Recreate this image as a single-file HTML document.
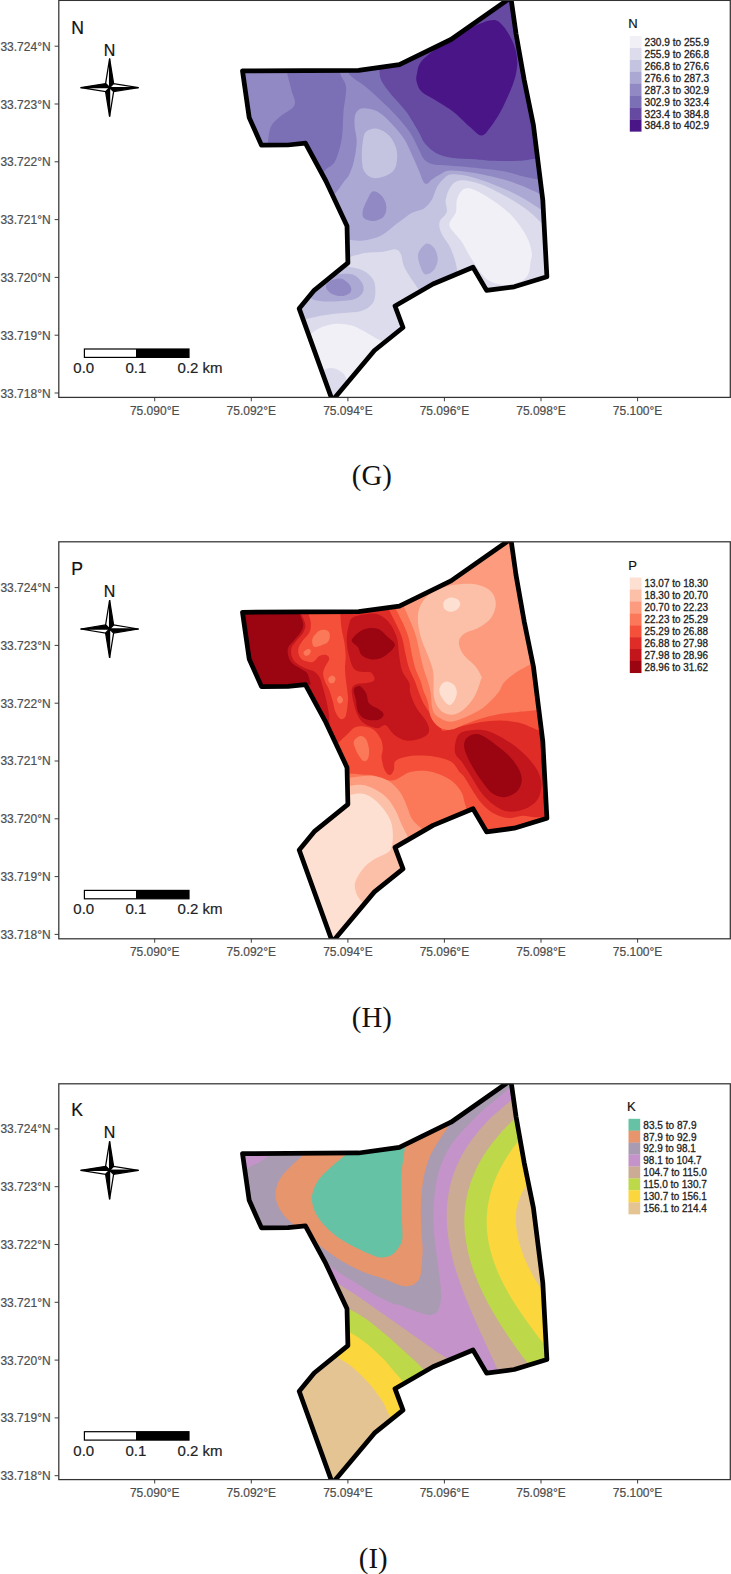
<!DOCTYPE html>
<html><head><meta charset="utf-8"><title>Soil nutrient maps</title>
<style>
html,body{margin:0;padding:0;background:#fff}
svg{display:block}
text{font-family:"Liberation Sans",Arial,sans-serif}
.ax{font-size:12px;fill:#4d4d4d;stroke:#4d4d4d;stroke-width:0.2px}
.ttl{font-size:17.6px;fill:#111;stroke:#111;stroke-width:0.2px}
.cn{font-size:16px;fill:#111;stroke:#111;stroke-width:0.2px}
.sb{font-size:15px;fill:#222;stroke:#222;stroke-width:0.2px}
.lt{font-size:13px;fill:#111;stroke:#111;stroke-width:0.2px}
.lg{font-size:10.2px;fill:#222;stroke:#222;stroke-width:0.3px}
.cap{font-family:"Liberation Serif","Times New Roman",serif;font-size:28.8px;fill:#111}
</style></head>
<body>
<svg width="731" height="1574" viewBox="0 0 731 1574">
<rect width="731" height="1574" fill="#fff"/>
<g transform="translate(0,0.0)">
<clipPath id="cp1"><path d="M242.5,70.9 L358.6,70.3 L399.4,64.7 L451.0,39.5 L510.9,-2.5 L516.0,33.6 L524.2,80.0 L533.4,125.0 L542.8,200.0 L546.9,276.8 L514.2,286.8 L486.6,290.4 L473.0,267.3 L433.0,284.0 L395.0,306.0 L403.0,327.5 L374.4,350.5 L332.4,400.6 L299.2,308.6 L314.2,290.3 L347.9,262.9 L347.0,226.0 L325.9,181.0 L305.4,143.2 L288.0,145.0 L261.5,145.2 L249.2,117.6Z"/></clipPath>
<clipPath id="pc1"><rect x="58.8" y="0.4" width="671.5" height="397.0"/></clipPath>
<g clip-path="url(#pc1)"><g clip-path="url(#cp1)"><rect x="230" y="-5" width="330" height="410" fill="#aba8d3"/>
<path d="M330.0,199.0C331.3,197.5 335.6,193.0 338.0,190.0C340.4,187.0 342.6,183.5 344.4,181.0C346.2,178.5 347.5,178.1 349.0,175.0C350.5,171.9 352.3,168.1 353.6,162.6C354.9,157.1 356.5,148.2 356.7,142.1C356.9,135.9 354.8,130.5 354.6,125.7C354.4,120.9 354.3,116.3 355.7,113.4C357.1,110.5 359.2,108.6 362.8,108.2C366.4,107.8 372.8,109.1 377.2,111.3C381.6,113.5 385.1,117.1 389.5,121.6C393.9,126.0 399.8,132.5 403.5,138.0C407.2,143.5 409.2,148.9 411.8,154.4C414.4,159.9 417.1,166.4 419.0,170.8C420.9,175.2 421.7,178.8 423.0,181.0C424.3,183.2 425.4,184.1 427.0,183.8C428.6,183.5 430.0,180.9 432.3,179.3C434.6,177.7 437.9,175.5 440.8,174.0C443.8,172.5 444.9,170.8 450.0,170.5C455.1,170.2 462.6,171.1 471.3,172.5C480.0,173.9 493.6,176.8 502.1,179.0C510.7,181.2 516.5,183.6 522.6,186.0C528.8,188.4 534.8,191.5 539.0,193.5C543.2,195.5 546.5,197.2 548.0,198.0L560.0,198.0L560.0,-5.0L230.0,-5.0L230.0,160.0L300.0,200.0Z" fill="#9189c4"/>
<path d="M286.0,62.0C286.1,63.2 285.4,64.8 286.3,69.4C287.2,74.1 290.0,83.9 291.4,89.9C292.8,95.9 296.4,100.8 294.5,105.3C292.6,109.8 284.0,113.0 280.1,116.6C276.2,120.2 272.9,122.4 270.9,126.8C268.8,131.2 268.4,139.3 267.8,143.2C267.2,147.1 267.1,148.9 267.0,150.0L300.0,150.0ZM322.0,174.0C322.7,173.2 324.1,171.0 326.3,168.9C328.5,166.8 332.5,166.2 335.1,161.2C337.7,156.2 340.3,147.2 341.7,139.0C343.1,130.8 342.8,120.6 343.5,112.0C344.2,103.4 346.6,93.7 346.1,87.4C345.6,81.2 341.7,78.7 340.6,74.5C339.5,70.3 339.7,64.1 339.5,62.0L286.0,62.0L300.0,150.0Z" fill="#7b70b6"/>
<path d="M346.0,62.0C346.6,64.1 346.7,70.6 349.5,74.4C352.3,78.2 357.8,80.5 362.8,84.6C367.8,88.7 373.8,93.9 379.3,99.0C384.8,104.1 391.0,109.9 396.0,115.4C401.0,120.9 405.8,126.3 409.5,131.8C413.2,137.3 415.9,143.6 418.3,148.2C420.8,152.8 421.6,156.8 424.2,159.5C426.8,162.2 430.0,163.5 434.0,164.5C438.0,165.5 441.8,165.1 448.0,165.6C454.2,166.1 462.3,166.6 471.3,167.5C480.3,168.4 493.6,169.6 502.1,171.0C510.7,172.4 516.8,174.8 522.6,176.2C528.4,177.6 532.8,178.3 537.0,179.3C541.2,180.3 546.2,181.6 548.0,182.0L560.0,182.0L560.0,-5.0L346.0,-5.0Z" fill="#7b70b6"/>
<path d="M378.5,60.0C378.6,61.5 378.8,65.8 379.3,69.2C379.8,72.6 379.2,76.2 381.3,80.5C383.4,84.8 387.5,89.8 391.6,94.9C395.7,100.0 401.5,105.3 405.9,111.3C410.3,117.3 415.0,125.6 418.2,131.0C421.4,136.4 421.9,139.8 425.0,143.5C428.1,147.2 432.0,151.0 436.7,153.4C441.4,155.8 446.7,157.0 453.1,158.0C459.5,159.0 468.6,158.8 475.0,159.3C481.4,159.8 484.6,160.6 491.8,160.8C499.1,161.1 511.3,161.2 518.5,160.8C525.7,160.5 530.0,159.3 534.9,158.7C539.8,158.1 545.8,157.3 548.0,157.0L560.0,157.0L560.0,-5.0L378.0,-5.0Z" fill="#6649a0"/>
<path d="M416.9,73.9C418.0,69.9 417.2,65.2 423.8,58.8C430.4,52.4 445.7,42.0 456.6,35.6C467.5,29.2 481.6,22.1 489.4,20.5C497.1,18.9 498.8,21.2 503.1,26.0C507.4,30.8 513.2,41.2 515.4,49.2C517.5,57.2 518.0,64.3 516.0,73.9C514.0,83.5 507.5,97.6 503.1,106.7C498.7,115.8 493.0,123.8 489.4,128.6C485.8,133.4 484.4,135.6 481.2,135.4C478.0,135.2 474.9,131.1 470.3,127.2C465.8,123.3 459.5,116.6 453.9,112.2C448.3,107.8 442.0,104.4 436.7,101.0C431.4,97.6 425.3,95.0 422.0,92.0C418.7,89.0 417.9,86.0 417.0,83.0C416.1,80.0 415.8,77.9 416.9,73.9Z" fill="#4a1587"/>
<path d="M373.1,191.3C375.7,190.6 380.1,193.8 382.3,196.4C384.5,199.0 386.2,203.3 386.4,206.7C386.6,210.1 385.6,214.5 383.4,216.9C381.2,219.3 376.4,220.8 373.1,221.0C369.9,221.2 365.6,219.7 363.9,218.0C362.2,216.3 362.3,213.7 362.8,210.8C363.3,207.9 365.2,203.8 366.9,200.5C368.6,197.2 370.5,192.0 373.1,191.3Z" fill="#9189c4"/>
<path d="M362.8,142.1C363.5,138.0 363.5,134.0 365.9,131.8C368.3,129.6 373.3,128.0 377.2,128.7C381.1,129.4 386.2,132.3 389.5,135.9C392.8,139.5 395.7,145.2 396.7,150.3C397.7,155.4 397.2,162.6 395.7,166.7C394.2,170.8 391.3,173.0 387.5,174.9C383.7,176.8 377.0,178.7 373.1,178.0C369.2,177.3 365.8,174.4 363.9,170.8C362.0,167.2 362.0,161.3 361.8,156.5C361.6,151.7 362.1,146.2 362.8,142.1Z" fill="#c4c4e1"/>
<path d="M340.0,239.0C341.2,239.1 343.6,239.2 347.4,239.5C351.2,239.8 357.1,241.2 362.8,240.5C368.5,239.8 375.5,238.3 381.3,235.4C387.1,232.5 392.6,226.9 397.7,223.1C402.8,219.3 407.7,215.2 412.1,212.8C416.5,210.4 420.7,210.7 424.0,208.5C427.3,206.3 429.8,203.2 432.0,199.6C434.2,196.0 435.0,190.5 437.0,187.0C439.0,183.5 441.5,180.6 444.0,178.5C446.5,176.4 447.1,174.5 452.0,174.3C456.9,174.1 465.0,175.2 473.4,177.5C481.8,179.8 493.9,184.6 502.1,188.0C510.3,191.4 516.3,194.5 522.6,198.0C528.9,201.5 535.8,206.2 540.0,209.0C544.2,211.8 546.7,214.0 548.0,215.0L560.0,215.0L560.0,410.0L280.0,410.0L280.0,239.0Z" fill="#c4c4e1"/>
<path d="M549.0,229.0C547.7,227.9 544.7,225.8 541.0,222.5C537.3,219.2 532.5,213.8 526.7,209.5C520.9,205.2 513.7,200.7 506.2,196.5C498.7,192.3 489.1,187.1 481.6,184.4C474.1,181.7 466.1,180.0 461.0,180.3C455.9,180.6 453.4,183.2 450.8,186.4C448.2,189.7 446.4,195.5 445.7,199.8C445.0,204.1 447.7,208.3 446.7,212.1C445.7,215.8 440.4,218.7 439.5,222.3C438.6,225.9 439.8,229.4 441.5,233.5C443.2,237.6 447.7,242.2 450.0,247.0C452.3,251.8 454.2,257.2 455.5,262.0C456.8,266.8 457.6,273.7 458.0,276.0L470.0,300.0L560.0,300.0Z" fill="#dddcec"/>
<path d="M340.0,259.0C341.6,258.7 345.4,258.0 349.5,257.0C353.6,256.0 359.2,253.8 364.9,252.9C370.5,252.0 378.3,252.4 383.4,251.8C388.5,251.2 392.8,249.1 395.7,249.4C398.6,249.8 399.4,251.1 400.8,253.9C402.2,256.7 402.2,262.1 403.9,266.2C405.6,270.3 408.7,274.7 411.1,278.5C413.5,282.3 416.4,286.2 418.2,288.8C420.0,291.4 421.4,293.1 422.0,294.0L430.0,300.0L430.0,410.0L280.0,410.0L280.0,259.0Z" fill="#dddcec"/>
<path d="M450.8,228.5C448.9,225.4 449.0,225.0 449.8,222.3C450.6,219.6 454.7,215.8 455.9,212.1C457.1,208.3 455.7,203.6 456.9,199.8C458.1,196.0 460.4,191.2 463.1,189.5C465.9,187.8 468.6,187.8 473.4,189.5C478.2,191.2 485.3,195.4 491.8,199.8C498.3,204.2 506.5,210.0 512.3,216.2C518.1,222.3 523.5,230.5 526.7,236.7C530.0,242.8 531.2,248.9 531.8,253.1C532.4,257.3 531.0,258.8 530.5,262.0C530.0,265.2 530.1,269.3 529.0,272.2C527.9,275.1 526.6,277.6 524.1,279.6C521.6,281.6 517.9,283.1 514.2,284.0C510.5,284.9 506.0,285.3 501.9,284.8C497.8,284.3 493.1,283.0 489.6,281.0C486.1,279.0 484.4,277.3 481.0,273.0C477.6,268.7 472.6,260.6 469.3,255.2C466.0,249.8 464.1,245.2 461.0,240.8C457.9,236.4 452.7,231.6 450.8,228.5Z" fill="#f1f0f7"/>
<path d="M300.0,340.0C301.8,339.0 307.3,336.0 310.6,334.0C313.9,332.0 315.6,329.6 319.9,327.9C324.2,326.2 330.8,324.0 336.3,323.7C341.8,323.4 347.6,324.2 352.7,325.8C357.8,327.4 363.0,330.8 367.1,333.0C371.2,335.2 374.6,337.7 377.3,339.1C380.0,340.5 381.1,340.4 383.5,341.2C385.9,342.0 390.6,343.5 392.0,344.0L400.0,410.0L280.0,410.0Z" fill="#f1f0f7"/>
<path d="M318.0,376.0C318.2,370.2 320.8,371.8 323.0,370.5C325.2,369.2 328.2,367.9 331.0,368.0C333.8,368.1 337.4,369.0 340.0,371.0C342.6,373.0 345.7,374.3 346.5,380.0C347.3,385.7 349.1,400.8 345.0,405.0C340.9,409.2 326.5,409.8 322.0,405.0C317.5,400.2 317.8,381.8 318.0,376.0Z" fill="#dddcec"/>
<path d="M346.6,266.3C352.1,267.7 358.6,268.2 363.0,270.4C367.4,272.6 371.1,276.0 373.2,279.6C375.3,283.2 375.5,287.9 375.4,291.9C375.3,295.9 374.9,300.2 372.5,303.4C370.1,306.6 366.0,309.4 361.1,311.0C356.2,312.6 349.3,312.4 343.4,313.0C337.5,313.6 331.5,314.0 325.6,314.9C319.7,315.8 312.7,317.3 307.8,318.5C302.9,319.7 298.1,325.1 296.0,322.0C293.9,318.9 289.3,310.0 295.0,300.0C300.7,290.0 321.4,267.6 330.0,262.0C338.6,256.4 341.1,264.9 346.6,266.3Z" fill="#c4c4e1"/>
<path d="M336.3,274.5C341.1,273.9 348.4,273.1 352.7,274.5C357.0,275.9 360.3,279.8 362.0,282.7C363.7,285.6 364.2,289.2 363.0,291.9C361.8,294.6 358.9,297.6 354.8,299.1C350.7,300.7 343.9,300.9 338.4,301.2C332.9,301.5 326.5,301.7 321.9,301.2C317.3,300.7 312.6,300.2 311.0,298.0C309.4,295.8 309.8,291.3 312.0,288.0C314.2,284.7 319.9,280.2 324.0,278.0C328.1,275.8 331.5,275.1 336.3,274.5Z" fill="#aba8d3"/>
<path d="M329.1,281.7C331.5,280.2 337.0,278.1 340.4,278.6C343.8,279.1 347.9,282.6 349.6,284.8C351.3,287.0 351.9,290.0 350.7,291.9C349.5,293.8 345.6,295.6 342.5,296.0C339.4,296.4 334.9,295.4 332.2,294.0C329.4,292.6 326.5,289.9 326.0,287.8C325.5,285.8 326.7,283.2 329.1,281.7Z" fill="#9189c4"/>
<path d="M426.5,243.6C429.2,242.7 432.8,246.0 434.7,248.7C436.6,251.4 437.9,256.4 437.7,260.0C437.5,263.6 435.7,267.9 433.6,270.3C431.6,272.7 427.6,275.1 425.4,274.4C423.2,273.7 421.5,269.6 420.3,266.2C419.1,262.8 417.2,257.7 418.2,253.9C419.2,250.1 423.8,244.5 426.5,243.6Z" fill="#aba8d3"/></g></g>
<path d="M242.5,70.9 L358.6,70.3 L399.4,64.7 L451.0,39.5 L510.9,-2.5 L516.0,33.6 L524.2,80.0 L533.4,125.0 L542.8,200.0 L546.9,276.8 L514.2,286.8 L486.6,290.4 L473.0,267.3 L433.0,284.0 L395.0,306.0 L403.0,327.5 L374.4,350.5 L332.4,400.6 L299.2,308.6 L314.2,290.3 L347.9,262.9 L347.0,226.0 L325.9,181.0 L305.4,143.2 L288.0,145.0 L261.5,145.2 L249.2,117.6Z" fill="none" stroke="#000" stroke-width="4.75" stroke-linejoin="round" clip-path="url(#pc1)"/>
<rect x="58.8" y="0.4" width="671.5" height="397.0" fill="none" stroke="#333" stroke-width="1.25"/>
<line x1="154.7" y1="397.4" x2="154.7" y2="401.3" stroke="#333" stroke-width="0.95"/>
<text x="154.7" y="414.8" text-anchor="middle" class="ax">75.090°E</text>
<line x1="251.3" y1="397.4" x2="251.3" y2="401.3" stroke="#333" stroke-width="0.95"/>
<text x="251.3" y="414.8" text-anchor="middle" class="ax">75.092°E</text>
<line x1="347.9" y1="397.4" x2="347.9" y2="401.3" stroke="#333" stroke-width="0.95"/>
<text x="347.9" y="414.8" text-anchor="middle" class="ax">75.094°E</text>
<line x1="444.4" y1="397.4" x2="444.4" y2="401.3" stroke="#333" stroke-width="0.95"/>
<text x="444.4" y="414.8" text-anchor="middle" class="ax">75.096°E</text>
<line x1="541.0" y1="397.4" x2="541.0" y2="401.3" stroke="#333" stroke-width="0.95"/>
<text x="541.0" y="414.8" text-anchor="middle" class="ax">75.098°E</text>
<line x1="637.6" y1="397.4" x2="637.6" y2="401.3" stroke="#333" stroke-width="0.95"/>
<text x="637.6" y="414.8" text-anchor="middle" class="ax">75.100°E</text>
<line x1="54.6" y1="46.2" x2="58.8" y2="46.2" stroke="#333" stroke-width="0.95"/>
<text x="50.6" y="50.7" text-anchor="end" class="ax">33.724°N</text>
<line x1="54.6" y1="104.0" x2="58.8" y2="104.0" stroke="#333" stroke-width="0.95"/>
<text x="50.6" y="108.5" text-anchor="end" class="ax">33.723°N</text>
<line x1="54.6" y1="161.8" x2="58.8" y2="161.8" stroke="#333" stroke-width="0.95"/>
<text x="50.6" y="166.3" text-anchor="end" class="ax">33.722°N</text>
<line x1="54.6" y1="219.6" x2="58.8" y2="219.6" stroke="#333" stroke-width="0.95"/>
<text x="50.6" y="224.1" text-anchor="end" class="ax">33.721°N</text>
<line x1="54.6" y1="277.4" x2="58.8" y2="277.4" stroke="#333" stroke-width="0.95"/>
<text x="50.6" y="281.9" text-anchor="end" class="ax">33.720°N</text>
<line x1="54.6" y1="335.2" x2="58.8" y2="335.2" stroke="#333" stroke-width="0.95"/>
<text x="50.6" y="339.7" text-anchor="end" class="ax">33.719°N</text>
<line x1="54.6" y1="393.0" x2="58.8" y2="393.0" stroke="#333" stroke-width="0.95"/>
<text x="50.6" y="397.5" text-anchor="end" class="ax">33.718°N</text>
<text x="71.3" y="33.5" class="ttl">N</text>
<g><path d="M109.6,58.6L105.6,83.6L109.6,87.6Z" fill="#fff" stroke="#000" stroke-width="1.25" stroke-linejoin="miter"/><path d="M109.6,58.6L113.6,83.6L109.6,87.6Z" fill="#000" stroke="#000" stroke-width="1.25" stroke-linejoin="miter"/><path d="M138.6,87.6L113.6,83.6L109.6,87.6Z" fill="#fff" stroke="#000" stroke-width="1.25" stroke-linejoin="miter"/><path d="M138.6,87.6L113.6,91.6L109.6,87.6Z" fill="#000" stroke="#000" stroke-width="1.25" stroke-linejoin="miter"/><path d="M109.6,116.6L105.6,91.6L109.6,87.6Z" fill="#000" stroke="#000" stroke-width="1.25" stroke-linejoin="miter"/><path d="M109.6,116.6L113.6,91.6L109.6,87.6Z" fill="#fff" stroke="#000" stroke-width="1.25" stroke-linejoin="miter"/><path d="M80.6,87.6L105.6,83.6L109.6,87.6Z" fill="#000" stroke="#000" stroke-width="1.25" stroke-linejoin="miter"/><path d="M80.6,87.6L105.6,91.6L109.6,87.6Z" fill="#fff" stroke="#000" stroke-width="1.25" stroke-linejoin="miter"/><text x="109.6" y="55.5" text-anchor="middle" class="cn">N</text></g>
<rect x="84.4" y="349" width="104.6" height="8.4" fill="#fff" stroke="#000" stroke-width="1.2"/>
<rect x="136" y="349" width="53" height="8.4" fill="#000"/>
<text x="83.8" y="372.9" text-anchor="middle" class="sb">0.0</text>
<text x="135.9" y="372.9" text-anchor="middle" class="sb">0.1</text>
<text x="177.6" y="372.9" class="sb">0.2 km</text>
<text x="628.2" y="28.2" class="lt">N</text>
<rect x="629.8" y="36.10" width="11.7" height="12.1" fill="#f1f0f7"/>
<text x="644.6" y="46.0" class="lg" textLength="64.6" lengthAdjust="spacingAndGlyphs">230.9 to 255.9</text>
<rect x="629.8" y="48.02" width="11.7" height="12.1" fill="#dddcec"/>
<text x="644.6" y="57.9" class="lg" textLength="64.6" lengthAdjust="spacingAndGlyphs">255.9 to 266.8</text>
<rect x="629.8" y="59.94" width="11.7" height="12.1" fill="#c4c4e1"/>
<text x="644.6" y="69.8" class="lg" textLength="64.6" lengthAdjust="spacingAndGlyphs">266.8 to 276.6</text>
<rect x="629.8" y="71.86" width="11.7" height="12.1" fill="#aba8d3"/>
<text x="644.6" y="81.8" class="lg" textLength="64.6" lengthAdjust="spacingAndGlyphs">276.6 to 287.3</text>
<rect x="629.8" y="83.78" width="11.7" height="12.1" fill="#9189c4"/>
<text x="644.6" y="93.7" class="lg" textLength="64.6" lengthAdjust="spacingAndGlyphs">287.3 to 302.9</text>
<rect x="629.8" y="95.70" width="11.7" height="12.1" fill="#7b70b6"/>
<text x="644.6" y="105.6" class="lg" textLength="64.6" lengthAdjust="spacingAndGlyphs">302.9 to 323.4</text>
<rect x="629.8" y="107.62" width="11.7" height="12.1" fill="#6649a0"/>
<text x="644.6" y="117.5" class="lg" textLength="64.6" lengthAdjust="spacingAndGlyphs">323.4 to 384.8</text>
<rect x="629.8" y="119.54" width="11.7" height="12.1" fill="#4a1587"/>
<text x="644.6" y="129.4" class="lg" textLength="64.6" lengthAdjust="spacingAndGlyphs">384.8 to 402.9</text>
</g>
<text x="371.8" y="484.6" text-anchor="middle" class="cap">(G)</text>
<g transform="translate(0,541.4)">
<clipPath id="cp2"><path d="M242.5,70.9 L358.6,70.3 L399.4,64.7 L451.0,39.5 L510.9,-2.5 L516.0,33.6 L524.2,80.0 L533.4,125.0 L542.8,200.0 L546.9,276.8 L514.2,286.8 L486.6,290.4 L473.0,267.3 L433.0,284.0 L395.0,306.0 L403.0,327.5 L374.4,350.5 L332.4,400.6 L299.2,308.6 L314.2,290.3 L347.9,262.9 L347.0,226.0 L325.9,181.0 L305.4,143.2 L288.0,145.0 L261.5,145.2 L249.2,117.6Z"/></clipPath>
<clipPath id="pc2"><rect x="58.8" y="0.4" width="671.5" height="397.0"/></clipPath>
<g clip-path="url(#pc2)"><g clip-path="url(#cp2)"><rect x="230" y="-5" width="330" height="410" fill="#e02c26"/>
<path d="M300.5,71.2C301.3,73.2 304.9,79.5 305.3,82.9C305.8,86.2 304.7,88.3 303.3,91.1C301.8,93.8 298.4,96.8 296.4,99.3C294.5,101.8 292.4,103.6 291.6,106.1C290.8,108.6 290.9,111.8 291.6,114.3C292.3,116.8 293.6,119.1 295.7,121.2C297.9,123.2 301.5,125.1 304.6,126.6C307.7,128.1 311.7,128.5 314.2,130.1C316.7,131.6 318.3,133.8 319.7,136.2C321.0,138.6 321.5,141.5 322.4,144.4C323.3,147.4 324.5,151.5 325.1,154.0C325.8,156.5 326.1,157.5 326.5,159.6C327.0,161.7 327.3,163.8 327.8,166.3C328.3,168.8 329.0,173.2 329.2,174.5L330.0,215.0L295.0,150.0L230.0,150.0L230.0,60.0Z" fill="#c2161c"/>
<path d="M348.7,84.2C349.8,80.1 349.8,78.0 352.8,76.0C355.9,74.1 362.8,72.9 367.2,72.5C371.6,72.1 375.7,71.9 379.5,73.6C383.3,75.2 386.9,78.3 389.8,82.2C392.7,86.0 395.4,91.4 397.0,96.5C398.5,101.7 398.2,107.5 399.0,113.0C399.9,118.4 400.4,124.6 402.1,129.4C403.8,134.2 407.9,137.9 409.3,141.7C410.6,145.4 409.1,147.8 410.3,151.9C411.5,156.0 413.7,161.5 416.4,166.3C419.2,171.1 424.7,176.6 426.7,180.7C428.8,184.8 429.8,188.2 428.8,190.9C427.7,193.7 424.3,195.7 420.6,197.1C416.8,198.5 410.6,199.8 406.2,199.1C401.7,198.5 397.3,195.6 393.9,193.0C390.5,190.4 388.4,184.8 385.7,183.8C382.9,182.7 380.9,187.0 377.5,186.8C374.0,186.7 368.4,184.8 365.1,182.7C361.9,180.7 359.8,177.9 358.0,174.5C356.1,171.1 354.9,166.7 353.9,162.2C352.8,157.8 351.3,151.1 351.8,147.8C352.3,144.6 354.4,143.7 356.9,142.7C359.5,141.7 364.3,142.4 367.2,141.7C370.1,141.0 373.7,140.3 374.4,138.6C375.1,136.9 373.5,132.8 371.3,131.4C369.1,130.1 363.9,131.1 361.0,130.4C358.1,129.7 355.7,129.5 353.9,127.3C352.0,125.1 351.0,121.5 349.8,117.1C348.6,112.6 346.8,106.1 346.7,100.6C346.5,95.2 347.7,88.3 348.7,84.2Z" fill="#c2161c"/>
<path d="M454.9,210.6C454.2,206.2 455.6,197.8 458.0,194.2C460.4,190.6 464.3,189.8 469.3,189.1C474.2,188.3 480.9,187.7 487.7,189.7C494.6,191.8 503.8,197.2 510.3,201.4C516.8,205.6 522.1,210.4 526.7,215.2C531.3,219.9 535.5,225.2 538.0,230.1C540.5,235.0 541.7,239.7 541.5,244.5C541.3,249.3 539.8,255.0 537.0,258.9C534.2,262.7 529.4,265.8 524.7,267.7C519.9,269.6 513.4,270.8 508.2,270.2C503.1,269.5 498.3,266.7 493.9,263.6C489.4,260.5 485.3,256.4 481.6,251.7C477.8,247.0 474.6,240.4 471.3,235.3C468.1,230.1 464.8,225.0 462.1,220.9C459.3,216.8 455.6,215.1 454.9,210.6Z" fill="#c2161c"/>
<path d="M299.2,71.2C299.8,73.2 303.0,79.5 303.3,82.9C303.5,86.2 302.1,88.3 300.5,91.1C298.9,93.8 295.7,96.8 293.7,99.3C291.6,101.8 289.1,103.6 288.2,106.1C287.3,108.6 287.5,111.7 288.2,114.3C288.9,116.9 290.0,119.6 292.3,121.8C294.6,124.1 299.4,126.3 301.9,128.0C304.4,129.7 305.9,129.6 307.4,132.1C308.8,134.6 310.2,141.2 310.8,143.0L230.0,150.0L230.0,60.0Z" fill="#9a0511"/>
<path d="M351.8,98.6C352.7,95.7 358.8,90.2 363.1,88.3C367.4,86.4 373.4,86.1 377.5,87.3C381.6,88.5 384.8,92.8 387.7,95.5C390.6,98.2 395.2,100.6 394.9,103.7C394.6,106.8 389.3,111.6 385.7,114.0C382.1,116.4 377.3,118.1 373.4,118.1C369.4,118.1 364.6,116.0 362.1,114.0C359.5,111.9 359.7,108.3 358.0,105.8C356.3,103.2 351.0,101.5 351.8,98.6Z" fill="#9a0511"/>
<path d="M353.9,147.8C354.5,145.6 358.0,144.1 360.0,144.8C362.1,145.4 364.6,149.0 366.2,151.9C367.7,154.9 367.0,159.5 369.3,162.2C371.5,164.9 377.1,166.5 379.5,168.4C381.9,170.2 384.0,171.8 383.6,173.5C383.3,175.2 380.5,177.9 377.5,178.6C374.4,179.3 368.4,179.0 365.1,177.6C361.9,176.2 359.5,173.7 358.0,170.4C356.4,167.2 356.6,161.9 355.9,158.1C355.2,154.3 353.2,150.1 353.9,147.8Z" fill="#9a0511"/>
<path d="M464.1,202.4C464.5,199.5 465.7,196.8 468.2,195.3C470.8,193.7 474.9,191.8 479.5,193.2C484.1,194.6 490.8,199.7 495.9,203.5C501.1,207.2 506.4,211.5 510.3,215.8C514.2,220.0 517.6,225.0 519.5,229.1C521.4,233.2 522.1,236.8 521.6,240.4C521.1,244.0 519.4,248.1 516.4,250.7C513.5,253.2 508.2,255.6 504.1,255.8C500.0,256.0 495.6,254.4 491.8,251.7C488.1,248.9 484.8,243.8 481.6,239.4C478.3,234.9 474.9,229.5 472.3,225.0C469.8,220.6 467.5,216.5 466.2,212.7C464.8,208.9 463.8,205.3 464.1,202.4Z" fill="#9a0511"/>
<path d="M308.0,71.2C308.5,72.9 310.6,78.2 310.8,81.5C311.0,84.8 310.8,88.1 309.4,91.1C308.0,94.0 304.4,96.6 302.6,99.3C300.7,101.9 299.0,104.3 298.5,106.8C297.9,109.3 298.2,112.3 299.2,114.3C300.1,116.4 301.7,118.1 303.9,119.1C306.2,120.1 310.2,121.3 312.8,120.5C315.5,119.7 317.4,115.5 319.7,114.3C322.0,113.2 324.9,113.1 326.5,113.6C328.1,114.2 329.5,115.8 329.2,117.7C329.0,119.7 326.2,122.9 325.1,125.3C324.1,127.7 323.1,129.6 323.1,132.1C323.1,134.6 324.1,137.6 325.1,140.3C326.2,143.0 328.0,145.3 329.2,148.5C330.5,151.7 331.6,156.0 332.7,159.6C333.7,163.2 334.1,167.4 335.4,170.4C336.7,173.4 338.8,176.9 340.5,177.6C342.2,178.3 344.5,177.1 345.7,174.5C346.8,172.0 347.3,165.4 347.7,162.2C348.1,159.0 348.2,158.8 348.0,155.4C347.8,151.9 346.8,146.2 346.3,141.7C345.8,137.1 345.1,132.6 345.0,128.0C344.9,123.4 345.8,118.9 345.7,114.3C345.5,109.8 345.0,105.2 344.3,100.6C343.6,96.1 342.2,91.9 341.6,87.0C340.9,82.1 340.4,73.8 340.2,71.2Z" fill="#f4503a"/>
<path d="M387.7,65.8C389.1,68.5 393.5,77.0 395.9,82.2C398.3,87.3 400.5,91.4 402.1,96.5C403.7,101.7 404.4,107.8 405.6,113.0C406.8,118.1 407.7,122.9 409.3,127.3C410.8,131.8 413.3,135.9 414.8,139.6C416.3,143.4 417.0,146.1 418.5,149.9C420.0,153.7 421.4,158.1 423.6,162.2C425.9,166.3 429.1,170.6 431.8,174.5C434.6,178.5 438.1,183.3 440.0,185.8C442.0,188.3 441.2,189.2 443.5,189.4C445.8,189.6 449.8,187.9 453.7,186.9C457.7,186.0 462.5,184.7 467.1,183.6C471.7,182.6 476.0,181.3 481.4,180.5C486.9,179.8 493.8,179.0 499.9,179.1C506.1,179.2 512.2,179.6 518.4,181.2C524.5,182.7 533.8,187.1 536.9,188.3L565.0,190.0L565.0,-5.0L385.0,-5.0Z" fill="#f4503a"/>
<path d="M336.9,202.9C338.1,201.8 341.7,198.0 343.8,196.1C345.8,194.1 347.4,192.6 349.2,191.0C351.1,189.4 352.2,187.2 354.7,186.2C357.2,185.2 361.1,184.7 364.3,185.1C367.5,185.5 371.1,186.5 373.9,188.5C376.6,190.6 379.2,194.3 380.7,197.4C382.2,200.5 382.6,203.9 382.8,207.0C382.9,210.1 381.3,212.7 381.6,216.3C381.9,219.9 383.3,225.7 384.6,228.6C386.0,231.5 388.2,233.7 389.8,233.7C391.3,233.7 393.0,230.8 393.9,228.6C394.7,226.4 393.5,222.4 394.9,220.4C396.3,218.3 398.5,217.3 402.1,216.3C405.7,215.3 411.0,214.4 416.4,214.2C421.9,214.1 429.1,214.2 434.9,215.3C440.7,216.3 447.2,217.8 451.3,220.4C455.4,222.9 457.4,228.2 459.5,230.6C461.7,233.1 462.0,232.3 464.1,235.3C466.3,238.3 469.4,244.2 472.3,248.6C475.2,253.1 478.0,258.0 481.6,261.9C485.2,265.9 489.4,269.7 493.9,272.2C498.3,274.7 503.5,276.4 508.2,276.7C513.0,277.1 518.2,274.4 522.6,274.3C527.1,274.1 530.1,275.7 534.9,275.9C539.7,276.1 548.6,275.4 551.3,275.3L560.0,410.0L280.0,410.0L280.0,200.0Z" fill="#f4503a"/>
<path d="M313.5,95.2C314.8,93.2 317.4,90.0 319.7,89.0C322.0,88.0 325.5,88.2 327.2,89.0C328.9,89.8 329.8,91.9 329.9,93.8C330.0,95.7 329.4,98.9 327.9,100.6C326.4,102.3 323.3,103.3 321.0,104.1C318.8,104.9 315.7,106.0 314.2,105.4C312.7,104.9 312.3,102.3 312.1,100.6C312.0,98.9 312.3,97.1 313.5,95.2Z" fill="#fb7858"/>
<path d="M303.5,110.9C303.9,109.8 306.2,108.1 307.4,107.8C308.6,107.4 310.4,108.0 310.8,108.8C311.1,109.7 310.3,112.0 309.4,113.0C308.5,113.9 306.3,114.7 305.3,114.3C304.3,114.0 303.2,112.0 303.5,110.9Z" fill="#fb7858"/>
<path d="M328.2,137.6C328.5,136.3 330.8,134.3 332.0,134.2C333.2,134.0 335.1,135.8 335.4,136.9C335.7,138.0 334.9,140.2 334.0,141.0C333.1,141.8 330.9,142.2 329.9,141.7C329.0,141.1 327.8,138.8 328.2,137.6Z" fill="#fb7858"/>
<path d="M336.9,157.8C337.0,156.5 338.7,154.4 339.7,154.3C340.6,154.2 342.2,156.0 342.7,157.1C343.1,158.1 343.0,159.6 342.4,160.5C341.9,161.3 340.3,162.6 339.4,162.1C338.5,161.7 336.9,159.1 336.9,157.8Z" fill="#fb7858"/>
<path d="M394.9,65.8C396.3,68.5 400.8,77.0 403.1,82.2C405.4,87.3 407.2,91.4 408.7,96.5C410.1,101.7 410.8,107.8 411.9,113.0C413.1,118.1 414.0,122.9 415.4,127.3C416.9,131.8 419.2,135.9 420.6,139.6C421.9,143.4 422.4,146.5 423.6,149.9C424.8,153.3 426.6,156.0 427.7,160.2C428.9,164.3 428.9,170.9 430.6,175.0C432.3,179.1 435.3,182.6 437.9,184.9C440.6,187.1 443.8,187.9 446.6,188.3C449.4,188.8 451.4,188.3 454.8,187.3C458.2,186.3 462.6,183.9 467.1,182.2C471.5,180.5 476.0,178.7 481.4,177.1C486.9,175.5 493.8,173.6 499.9,172.5C506.1,171.5 512.2,171.1 518.4,170.5C524.5,169.9 533.8,169.1 536.9,168.9L565.0,170.0L565.0,-5.0L400.0,-5.0Z" fill="#fb7858"/>
<path d="M344.6,231.7C347.4,231.9 356.3,232.7 361.0,233.1C365.8,233.5 369.6,233.3 373.4,234.1C377.1,234.9 380.2,237.0 383.6,237.8C387.0,238.6 390.8,239.4 393.9,238.9C397.0,238.3 399.3,236.1 402.1,234.7C404.8,233.4 406.2,231.5 410.3,230.6C414.4,229.8 421.6,229.1 426.7,229.6C431.8,230.1 436.6,231.8 441.1,233.7C445.5,235.6 450.0,238.0 453.4,240.9C456.8,243.8 459.7,247.7 461.6,251.2C463.5,254.6 463.6,258.0 464.7,261.4C465.7,264.8 467.2,270.0 467.8,271.7L470.0,300.0L470.0,410.0L280.0,410.0L280.0,232.0Z" fill="#fb7858"/>
<path d="M360.2,194.7C362.1,194.3 364.3,195.8 365.7,197.4C367.0,199.0 367.8,201.8 368.4,204.3C369.0,206.8 369.3,210.1 369.1,212.5C368.9,214.9 368.1,217.5 367.0,218.6C366.0,219.8 364.4,220.2 362.9,219.3C361.4,218.4 359.5,215.4 358.1,213.2C356.8,210.9 355.4,207.9 354.7,205.6C354.0,203.4 353.1,201.3 354.0,199.5C354.9,197.7 358.3,195.0 360.2,194.7Z" fill="#fb7858"/>
<path d="M404.1,65.8C405.3,68.5 409.3,77.0 411.3,82.2C413.4,87.3 415.0,91.4 416.4,96.5C417.9,101.7 418.9,107.8 420.1,113.0C421.3,118.1 422.4,122.9 423.6,127.3C424.9,131.8 426.6,135.9 427.7,139.6C428.9,143.4 429.5,144.9 430.4,149.9C431.3,154.9 431.2,165.2 433.2,169.9C435.2,174.6 439.2,176.4 442.5,178.1C445.7,179.8 448.6,180.7 452.7,180.1C456.8,179.6 462.6,176.9 467.1,175.0C471.5,173.1 475.6,171.2 479.4,168.9C483.2,166.5 486.4,163.7 489.7,160.6C492.9,157.6 496.5,153.6 498.9,150.4C501.3,147.1 501.1,144.4 504.0,141.1C506.9,137.9 510.9,134.5 516.3,130.9C521.8,127.3 533.4,121.5 536.9,119.6L565.0,100.0L565.0,-5.0L420.0,-5.0Z" fill="#fc9b7d"/>
<path d="M344.6,237.2C347.0,236.9 354.5,235.6 359.0,235.2C363.4,234.7 367.5,234.1 371.3,234.3C375.1,234.5 378.1,235.1 381.6,236.4C385.0,237.7 388.6,239.3 391.8,241.9C395.1,244.6 398.5,248.3 401.1,252.2C403.6,256.1 405.3,261.3 407.2,265.5C409.1,269.8 409.8,274.1 412.3,277.8C414.9,281.6 420.9,286.4 422.6,288.1L430.0,300.0L430.0,410.0L280.0,410.0L280.0,232.0Z" fill="#fc9b7d"/>
<path d="M417.8,77.6C417.8,72.1 418.5,67.7 420.9,63.2C423.3,58.8 426.9,54.2 432.2,50.9C437.5,47.7 445.9,45.1 452.7,43.7C459.6,42.4 467.1,41.8 473.2,42.7C479.4,43.5 485.9,45.8 489.7,48.9C493.4,51.9 495.5,56.7 495.8,61.2C496.2,65.6 494.4,71.4 491.7,75.5C489.0,79.6 483.8,83.1 479.4,85.8C475.0,88.5 468.5,89.6 465.0,91.9C461.6,94.3 459.2,96.7 458.9,100.2C458.5,103.6 460.2,108.4 463.0,112.5C465.7,116.6 472.2,121.0 475.3,124.8C478.4,128.5 480.5,132.8 481.4,135.0C482.4,137.3 482.1,135.0 481.0,138.1C480.0,141.1 477.8,148.8 475.3,153.5C472.8,158.1 469.3,162.6 466.1,165.8C462.8,169.0 459.0,171.4 455.8,172.5C452.5,173.7 449.4,173.5 446.6,172.5C443.7,171.6 440.9,169.8 438.8,166.8C436.6,163.8 434.8,160.5 433.8,154.5C432.9,148.5 434.2,137.6 433.2,130.9C432.3,124.3 430.1,120.3 428.1,114.5C426.0,108.7 422.6,102.2 420.9,96.0C419.2,89.9 417.8,83.1 417.8,77.6Z" fill="#fcbfa7"/>
<path d="M344.6,245.4C347.4,245.1 355.9,242.9 361.0,243.4C366.2,243.8 371.0,245.8 375.4,248.1C379.9,250.4 384.3,253.7 387.7,257.3C391.1,260.9 393.7,265.5 395.9,269.6C398.2,273.7 399.3,278.2 401.1,281.9C402.8,285.7 404.7,289.1 406.2,292.2C407.7,295.3 409.6,299.0 410.3,300.4L420.0,300.0L420.0,410.0L280.0,410.0L280.0,272.0Z" fill="#fcbfa7"/>
<path d="M451.7,56.0C453.6,56.1 456.4,56.9 457.9,58.1C459.3,59.3 460.5,61.5 460.3,63.2C460.1,64.9 458.6,67.1 456.8,68.3C455.0,69.5 451.8,70.6 449.6,70.4C447.5,70.2 445.1,68.4 444.1,66.9C443.1,65.4 443.1,62.7 443.5,61.2C443.9,59.6 445.2,58.3 446.6,57.5C447.9,56.6 449.8,55.9 451.7,56.0Z" fill="#fee0d2"/>
<path d="M446.6,140.1C448.6,140.1 452.0,141.5 453.7,143.2C455.5,144.9 456.7,147.8 456.8,150.4C457.0,152.9 456.0,156.4 454.8,158.6C453.6,160.8 451.5,163.7 449.6,163.7C447.8,163.7 445.2,160.8 443.5,158.6C441.8,156.4 439.7,152.9 439.4,150.4C439.0,147.8 440.2,144.9 441.4,143.2C442.6,141.5 444.5,140.1 446.6,140.1Z" fill="#fee0d2"/>
<path d="M344.6,254.9C347.4,254.4 356.3,251.8 361.0,252.2C365.8,252.6 369.6,254.8 373.4,257.3C377.1,259.9 380.7,263.8 383.6,267.6C386.5,271.3 389.3,275.8 390.8,279.9C392.3,284.0 392.7,288.1 392.9,292.2C393.0,296.3 392.7,301.4 391.8,304.5C391.0,307.7 390.5,309.0 387.7,311.1C385.0,313.2 379.2,314.9 375.4,317.2C371.6,319.6 367.9,322.4 365.1,325.0C362.4,327.7 360.7,330.3 359.0,333.2C357.3,336.2 355.1,339.5 354.8,342.8C354.4,346.2 355.7,350.3 356.8,353.1C357.9,355.9 360.0,358.0 361.3,359.9C362.7,361.8 364.4,363.6 365.0,364.4L375.0,410.0L280.0,410.0L280.0,255.0Z" fill="#fee0d2"/></g></g>
<path d="M242.5,70.9 L358.6,70.3 L399.4,64.7 L451.0,39.5 L510.9,-2.5 L516.0,33.6 L524.2,80.0 L533.4,125.0 L542.8,200.0 L546.9,276.8 L514.2,286.8 L486.6,290.4 L473.0,267.3 L433.0,284.0 L395.0,306.0 L403.0,327.5 L374.4,350.5 L332.4,400.6 L299.2,308.6 L314.2,290.3 L347.9,262.9 L347.0,226.0 L325.9,181.0 L305.4,143.2 L288.0,145.0 L261.5,145.2 L249.2,117.6Z" fill="none" stroke="#000" stroke-width="4.75" stroke-linejoin="round" clip-path="url(#pc2)"/>
<rect x="58.8" y="0.4" width="671.5" height="397.0" fill="none" stroke="#333" stroke-width="1.25"/>
<line x1="154.7" y1="397.4" x2="154.7" y2="401.3" stroke="#333" stroke-width="0.95"/>
<text x="154.7" y="414.8" text-anchor="middle" class="ax">75.090°E</text>
<line x1="251.3" y1="397.4" x2="251.3" y2="401.3" stroke="#333" stroke-width="0.95"/>
<text x="251.3" y="414.8" text-anchor="middle" class="ax">75.092°E</text>
<line x1="347.9" y1="397.4" x2="347.9" y2="401.3" stroke="#333" stroke-width="0.95"/>
<text x="347.9" y="414.8" text-anchor="middle" class="ax">75.094°E</text>
<line x1="444.4" y1="397.4" x2="444.4" y2="401.3" stroke="#333" stroke-width="0.95"/>
<text x="444.4" y="414.8" text-anchor="middle" class="ax">75.096°E</text>
<line x1="541.0" y1="397.4" x2="541.0" y2="401.3" stroke="#333" stroke-width="0.95"/>
<text x="541.0" y="414.8" text-anchor="middle" class="ax">75.098°E</text>
<line x1="637.6" y1="397.4" x2="637.6" y2="401.3" stroke="#333" stroke-width="0.95"/>
<text x="637.6" y="414.8" text-anchor="middle" class="ax">75.100°E</text>
<line x1="54.6" y1="46.2" x2="58.8" y2="46.2" stroke="#333" stroke-width="0.95"/>
<text x="50.6" y="50.7" text-anchor="end" class="ax">33.724°N</text>
<line x1="54.6" y1="104.0" x2="58.8" y2="104.0" stroke="#333" stroke-width="0.95"/>
<text x="50.6" y="108.5" text-anchor="end" class="ax">33.723°N</text>
<line x1="54.6" y1="161.8" x2="58.8" y2="161.8" stroke="#333" stroke-width="0.95"/>
<text x="50.6" y="166.3" text-anchor="end" class="ax">33.722°N</text>
<line x1="54.6" y1="219.6" x2="58.8" y2="219.6" stroke="#333" stroke-width="0.95"/>
<text x="50.6" y="224.1" text-anchor="end" class="ax">33.721°N</text>
<line x1="54.6" y1="277.4" x2="58.8" y2="277.4" stroke="#333" stroke-width="0.95"/>
<text x="50.6" y="281.9" text-anchor="end" class="ax">33.720°N</text>
<line x1="54.6" y1="335.2" x2="58.8" y2="335.2" stroke="#333" stroke-width="0.95"/>
<text x="50.6" y="339.7" text-anchor="end" class="ax">33.719°N</text>
<line x1="54.6" y1="393.0" x2="58.8" y2="393.0" stroke="#333" stroke-width="0.95"/>
<text x="50.6" y="397.5" text-anchor="end" class="ax">33.718°N</text>
<text x="71.3" y="33.5" class="ttl">P</text>
<g><path d="M109.6,58.6L105.6,83.6L109.6,87.6Z" fill="#fff" stroke="#000" stroke-width="1.25" stroke-linejoin="miter"/><path d="M109.6,58.6L113.6,83.6L109.6,87.6Z" fill="#000" stroke="#000" stroke-width="1.25" stroke-linejoin="miter"/><path d="M138.6,87.6L113.6,83.6L109.6,87.6Z" fill="#fff" stroke="#000" stroke-width="1.25" stroke-linejoin="miter"/><path d="M138.6,87.6L113.6,91.6L109.6,87.6Z" fill="#000" stroke="#000" stroke-width="1.25" stroke-linejoin="miter"/><path d="M109.6,116.6L105.6,91.6L109.6,87.6Z" fill="#000" stroke="#000" stroke-width="1.25" stroke-linejoin="miter"/><path d="M109.6,116.6L113.6,91.6L109.6,87.6Z" fill="#fff" stroke="#000" stroke-width="1.25" stroke-linejoin="miter"/><path d="M80.6,87.6L105.6,83.6L109.6,87.6Z" fill="#000" stroke="#000" stroke-width="1.25" stroke-linejoin="miter"/><path d="M80.6,87.6L105.6,91.6L109.6,87.6Z" fill="#fff" stroke="#000" stroke-width="1.25" stroke-linejoin="miter"/><text x="109.6" y="55.5" text-anchor="middle" class="cn">N</text></g>
<rect x="84.4" y="349" width="104.6" height="8.4" fill="#fff" stroke="#000" stroke-width="1.2"/>
<rect x="136" y="349" width="53" height="8.4" fill="#000"/>
<text x="83.8" y="372.9" text-anchor="middle" class="sb">0.0</text>
<text x="135.9" y="372.9" text-anchor="middle" class="sb">0.1</text>
<text x="177.6" y="372.9" class="sb">0.2 km</text>
<text x="628.2" y="28.2" class="lt">P</text>
<rect x="629.8" y="36.10" width="11.7" height="12.1" fill="#fee0d2"/>
<text x="644.6" y="46.0" class="lg" textLength="63.4" lengthAdjust="spacingAndGlyphs">13.07 to 18.30</text>
<rect x="629.8" y="48.02" width="11.7" height="12.1" fill="#fcbfa7"/>
<text x="644.6" y="57.9" class="lg" textLength="63.4" lengthAdjust="spacingAndGlyphs">18.30 to 20.70</text>
<rect x="629.8" y="59.94" width="11.7" height="12.1" fill="#fc9b7d"/>
<text x="644.6" y="69.8" class="lg" textLength="63.4" lengthAdjust="spacingAndGlyphs">20.70 to 22.23</text>
<rect x="629.8" y="71.86" width="11.7" height="12.1" fill="#fb7858"/>
<text x="644.6" y="81.8" class="lg" textLength="63.4" lengthAdjust="spacingAndGlyphs">22.23 to 25.29</text>
<rect x="629.8" y="83.78" width="11.7" height="12.1" fill="#f4503a"/>
<text x="644.6" y="93.7" class="lg" textLength="63.4" lengthAdjust="spacingAndGlyphs">25.29 to 26.88</text>
<rect x="629.8" y="95.70" width="11.7" height="12.1" fill="#e02c26"/>
<text x="644.6" y="105.6" class="lg" textLength="63.4" lengthAdjust="spacingAndGlyphs">26.88 to 27.98</text>
<rect x="629.8" y="107.62" width="11.7" height="12.1" fill="#c2161c"/>
<text x="644.6" y="117.5" class="lg" textLength="63.4" lengthAdjust="spacingAndGlyphs">27.98 to 28.96</text>
<rect x="629.8" y="119.54" width="11.7" height="12.1" fill="#9a0511"/>
<text x="644.6" y="129.4" class="lg" textLength="63.4" lengthAdjust="spacingAndGlyphs">28.96 to 31.62</text>
</g>
<text x="371.8" y="1027.0" text-anchor="middle" class="cap">(H)</text>
<g transform="translate(0,1082.7)">
<clipPath id="cp3"><path d="M242.5,70.9 L358.6,70.3 L399.4,64.7 L451.0,39.5 L510.9,-2.5 L516.0,33.6 L524.2,80.0 L533.4,125.0 L542.8,200.0 L546.9,276.8 L514.2,286.8 L486.6,290.4 L473.0,267.3 L433.0,284.0 L395.0,306.0 L403.0,327.5 L374.4,350.5 L332.4,400.6 L299.2,308.6 L314.2,290.3 L347.9,262.9 L347.0,226.0 L325.9,181.0 L305.4,143.2 L288.0,145.0 L261.5,145.2 L249.2,117.6Z"/></clipPath>
<clipPath id="pc3"><rect x="58.8" y="1.1" width="671.5" height="395.8"/></clipPath>
<g clip-path="url(#pc3)"><g clip-path="url(#cp3)"><rect x="230" y="-5" width="330" height="410" fill="#c393ca"/>
<path d="M321.2,175.3C323.9,177.6 332.1,184.8 337.6,188.7C343.1,192.6 348.3,195.3 354.0,198.9C359.7,202.6 365.4,206.7 371.8,210.3C378.2,213.9 387.6,218.6 392.3,220.6C397.0,222.6 396.4,221.2 400.0,222.4C403.6,223.6 409.5,226.4 413.7,227.9C417.9,229.4 422.0,230.8 425.0,231.5C428.0,232.2 429.5,232.4 431.5,232.0C433.5,231.6 435.6,230.7 437.0,229.0C438.4,227.3 439.3,225.4 440.0,222.0C440.7,218.6 441.5,216.6 441.0,208.7C440.5,200.8 438.1,184.2 436.9,174.5C435.7,164.8 434.6,156.9 434.0,150.3C433.4,143.7 433.6,139.5 433.5,135.0C433.4,130.5 433.2,129.5 433.6,123.4C434.1,117.4 434.8,106.3 436.3,98.8C437.8,91.3 439.7,84.8 442.5,78.3C445.2,71.8 448.6,65.6 452.7,59.8C456.8,54.0 462.0,48.9 467.1,43.4C472.2,37.9 478.0,31.9 483.5,27.0C489.0,22.0 495.5,17.4 499.9,13.6C504.4,9.9 508.5,5.9 510.2,4.4L520.0,-5.0L300.0,-5.0L300.0,60.0L300.0,150.0L318.0,180.0Z" fill="#a99bb1"/>
<path d="M276.0,67.0C273.7,68.8 266.8,74.9 262.0,78.0C257.2,81.1 251.5,83.3 247.5,85.5C243.5,87.7 239.6,90.1 238.0,91.0L230.0,150.0L300.0,150.0L318.0,180.0L330.0,60.0Z" fill="#a99bb1"/>
<path d="M307.9,68.6C305.3,70.9 296.9,77.7 292.5,82.0C288.0,86.3 283.9,90.2 281.2,94.3C278.4,98.4 276.9,102.8 276.0,106.6C275.2,110.4 275.4,113.4 276.0,116.9C276.7,120.3 278.1,123.7 280.1,127.1C282.2,130.5 284.9,134.0 288.4,137.4C291.8,140.8 296.6,144.2 300.7,147.6C304.8,151.1 308.9,154.7 313.0,157.9C317.1,161.2 320.5,163.7 325.3,167.1C330.1,170.6 335.6,174.8 341.7,178.4C347.9,182.0 355.0,185.7 362.2,188.7C369.4,191.7 378.7,194.2 385.0,196.5C391.3,198.8 396.0,201.4 400.0,202.5C404.0,203.6 406.3,203.7 409.0,203.3C411.7,202.9 414.1,201.8 416.0,200.0C417.9,198.2 419.4,197.7 420.5,192.3C421.6,186.9 422.4,174.7 422.6,167.7C422.8,160.7 421.8,157.7 421.5,150.3C421.2,142.9 420.7,132.0 420.9,123.4C421.2,114.8 421.8,106.3 423.0,98.8C424.2,91.3 425.9,84.4 428.1,78.3C430.3,72.1 433.2,67.2 436.3,61.9C439.4,56.6 443.3,51.6 446.6,46.5C449.8,41.3 454.3,33.6 455.8,31.1L440.0,-5.0L300.0,-5.0Z" fill="#e7956c"/>
<path d="M348.3,69.7C345.5,72.1 336.3,79.6 331.4,84.0C326.6,88.5 322.2,92.2 319.1,96.3C316.1,100.4 314.2,104.9 313.0,108.7C311.8,112.4 311.4,115.2 312.0,118.9C312.5,122.7 313.8,127.1 316.1,131.2C318.3,135.3 321.4,139.4 325.3,143.5C329.2,147.6 334.2,152.1 339.7,155.9C345.1,159.6 352.3,163.2 358.1,166.1C363.9,169.0 370.6,171.8 374.5,173.3C378.5,174.7 379.1,175.0 382.1,174.8C385.1,174.6 389.2,174.3 392.3,171.9C395.5,169.6 399.3,164.4 401.0,160.8C402.7,157.2 402.4,156.5 402.4,150.3C402.5,144.1 401.6,133.0 401.4,123.4C401.2,113.8 400.9,101.9 401.4,92.6C401.9,83.4 403.7,73.5 404.5,68.0C405.2,62.5 405.7,61.2 405.9,59.8L400.0,30.0L345.0,30.0Z" fill="#66c2a5"/>
<path d="M515.4,14.0C511.2,17.6 497.7,28.4 490.4,35.5C483.1,42.7 477.1,49.9 471.8,57.1C466.5,64.3 462.3,71.4 458.8,78.6C455.4,85.8 452.8,93.0 450.8,100.2C448.9,107.3 447.8,114.5 447.1,121.7C446.5,128.9 446.6,136.1 447.1,143.2C447.5,150.4 448.6,157.6 450.0,164.8C451.4,171.9 453.3,179.1 455.4,186.3C457.6,193.5 460.1,200.7 462.8,207.8C465.4,215.0 468.4,222.2 471.5,229.4C474.5,236.6 477.8,243.7 481.0,250.9C484.3,258.1 487.7,265.3 491.0,272.5C494.3,279.6 499.2,290.4 500.9,294.0L560.0,300.0L560.0,0.0Z" fill="#cbab93"/>
<path d="M519.8,31.0C516.5,34.3 505.9,44.1 500.2,50.7C494.4,57.3 489.5,63.8 485.2,70.4C480.9,76.9 477.4,83.5 474.5,90.1C471.6,96.6 469.4,103.2 467.8,109.8C466.1,116.3 465.2,122.9 464.7,129.5C464.2,136.0 464.3,142.6 464.8,149.2C465.4,155.7 466.5,162.3 467.9,168.8C469.4,175.4 471.4,182.0 473.7,188.5C476.1,195.1 478.8,201.7 481.9,208.2C485.0,214.8 488.4,221.4 492.1,227.9C495.9,234.5 499.9,241.1 504.2,247.6C508.5,254.2 513.0,260.7 517.7,267.3C522.5,273.9 530.1,283.7 532.6,287.0L560.0,300.0L560.0,20.0Z" fill="#bdd949"/>
<path d="M523.5,52.0C521.4,54.8 514.6,63.0 510.7,68.5C506.9,74.1 503.6,79.6 500.6,85.1C497.7,90.6 495.3,96.1 493.3,101.6C491.3,107.1 489.8,112.6 488.7,118.2C487.6,123.7 486.9,129.2 486.7,134.7C486.5,140.2 486.7,145.7 487.3,151.2C487.9,156.7 489.0,162.3 490.4,167.8C491.8,173.3 493.6,178.8 495.8,184.3C497.9,189.8 500.4,195.3 503.2,200.8C506.0,206.4 509.1,211.9 512.5,217.4C515.9,222.9 519.5,228.4 523.4,233.9C527.2,239.4 531.3,244.9 535.5,250.5C539.7,256.0 546.3,264.2 548.5,267.0L560.0,270.0L560.0,50.0Z" fill="#fbd63d"/>
<path d="M533.2,95.0C531.9,96.5 527.8,101.1 525.7,104.1C523.5,107.1 521.9,110.1 520.5,113.2C519.2,116.2 518.2,119.2 517.4,122.2C516.6,125.3 516.2,128.3 515.9,131.3C515.7,134.3 515.7,137.4 515.9,140.4C516.0,143.4 516.4,146.4 516.9,149.5C517.4,152.5 518.1,155.5 518.8,158.5C519.6,161.6 520.6,164.6 521.6,167.6C522.6,170.6 523.8,173.7 525.1,176.7C526.3,179.7 527.7,182.7 529.2,185.8C530.7,188.8 532.3,191.8 534.0,194.8C535.8,197.9 537.6,200.9 539.6,203.9C541.7,206.9 545.0,211.5 546.1,213.0L560.0,210.0L560.0,100.0Z" fill="#e5c494"/>
<path d="M332.8,198.0C333.7,198.5 333.9,198.5 338.0,201.1C342.1,203.6 350.8,208.9 357.5,213.4C364.1,217.8 371.1,223.0 378.0,227.8C384.8,232.5 391.7,237.3 398.5,242.1C405.3,246.9 412.2,251.7 419.0,256.5C425.9,261.3 434.1,267.2 439.5,270.9C445.0,274.5 449.8,277.4 451.9,278.7L470.0,285.0L470.0,410.0L280.0,410.0L280.0,215.0L325.0,205.0Z" fill="#cbab93"/>
<path d="M342.1,222.0C343.1,222.6 344.3,223.4 348.2,225.7C352.2,228.0 359.3,231.5 365.7,236.0C372.0,240.4 379.3,246.6 386.2,252.4C393.0,258.2 400.9,265.6 406.7,270.9C412.5,276.2 417.5,280.8 421.1,284.2C424.7,287.6 427.1,290.2 428.3,291.4L440.0,300.0L440.0,410.0L280.0,410.0L280.0,225.0Z" fill="#bdd949"/>
<path d="M342.1,245.2C343.3,245.9 345.7,247.1 349.3,249.3C352.8,251.5 358.1,254.3 363.6,258.5C369.1,262.8 376.6,269.5 382.1,275.0C387.6,280.4 393.0,287.4 396.4,291.4C399.9,295.3 400.7,296.3 402.6,298.6C404.5,300.8 406.9,303.7 407.7,304.7L420.0,320.0L420.0,410.0L280.0,410.0L280.0,245.0Z" fill="#fbd63d"/>
<path d="M330.8,270.9C332.0,271.5 334.2,272.6 338.0,275.0C341.7,277.4 348.1,280.8 353.4,285.2C358.7,289.7 365.0,296.2 369.8,301.6C374.6,307.1 379.2,313.6 382.1,318.1C385.0,322.5 385.7,325.2 387.2,328.3C388.8,331.4 390.6,335.2 391.3,336.5L400.0,410.0L280.0,410.0L280.0,270.0Z" fill="#e5c494"/></g></g>
<path d="M242.5,70.9 L358.6,70.3 L399.4,64.7 L451.0,39.5 L510.9,-2.5 L516.0,33.6 L524.2,80.0 L533.4,125.0 L542.8,200.0 L546.9,276.8 L514.2,286.8 L486.6,290.4 L473.0,267.3 L433.0,284.0 L395.0,306.0 L403.0,327.5 L374.4,350.5 L332.4,400.6 L299.2,308.6 L314.2,290.3 L347.9,262.9 L347.0,226.0 L325.9,181.0 L305.4,143.2 L288.0,145.0 L261.5,145.2 L249.2,117.6Z" fill="none" stroke="#000" stroke-width="4.75" stroke-linejoin="round" clip-path="url(#pc3)"/>
<rect x="58.8" y="1.1" width="671.5" height="395.8" fill="none" stroke="#333" stroke-width="1.25"/>
<line x1="154.7" y1="396.9" x2="154.7" y2="400.8" stroke="#333" stroke-width="0.95"/>
<text x="154.7" y="414.8" text-anchor="middle" class="ax">75.090°E</text>
<line x1="251.3" y1="396.9" x2="251.3" y2="400.8" stroke="#333" stroke-width="0.95"/>
<text x="251.3" y="414.8" text-anchor="middle" class="ax">75.092°E</text>
<line x1="347.9" y1="396.9" x2="347.9" y2="400.8" stroke="#333" stroke-width="0.95"/>
<text x="347.9" y="414.8" text-anchor="middle" class="ax">75.094°E</text>
<line x1="444.4" y1="396.9" x2="444.4" y2="400.8" stroke="#333" stroke-width="0.95"/>
<text x="444.4" y="414.8" text-anchor="middle" class="ax">75.096°E</text>
<line x1="541.0" y1="396.9" x2="541.0" y2="400.8" stroke="#333" stroke-width="0.95"/>
<text x="541.0" y="414.8" text-anchor="middle" class="ax">75.098°E</text>
<line x1="637.6" y1="396.9" x2="637.6" y2="400.8" stroke="#333" stroke-width="0.95"/>
<text x="637.6" y="414.8" text-anchor="middle" class="ax">75.100°E</text>
<line x1="54.6" y1="46.2" x2="58.8" y2="46.2" stroke="#333" stroke-width="0.95"/>
<text x="50.6" y="50.7" text-anchor="end" class="ax">33.724°N</text>
<line x1="54.6" y1="104.0" x2="58.8" y2="104.0" stroke="#333" stroke-width="0.95"/>
<text x="50.6" y="108.5" text-anchor="end" class="ax">33.723°N</text>
<line x1="54.6" y1="161.8" x2="58.8" y2="161.8" stroke="#333" stroke-width="0.95"/>
<text x="50.6" y="166.3" text-anchor="end" class="ax">33.722°N</text>
<line x1="54.6" y1="219.6" x2="58.8" y2="219.6" stroke="#333" stroke-width="0.95"/>
<text x="50.6" y="224.1" text-anchor="end" class="ax">33.721°N</text>
<line x1="54.6" y1="277.4" x2="58.8" y2="277.4" stroke="#333" stroke-width="0.95"/>
<text x="50.6" y="281.9" text-anchor="end" class="ax">33.720°N</text>
<line x1="54.6" y1="335.2" x2="58.8" y2="335.2" stroke="#333" stroke-width="0.95"/>
<text x="50.6" y="339.7" text-anchor="end" class="ax">33.719°N</text>
<line x1="54.6" y1="393.0" x2="58.8" y2="393.0" stroke="#333" stroke-width="0.95"/>
<text x="50.6" y="397.5" text-anchor="end" class="ax">33.718°N</text>
<text x="71.3" y="33.5" class="ttl">K</text>
<g><path d="M109.6,58.6L105.6,83.6L109.6,87.6Z" fill="#fff" stroke="#000" stroke-width="1.25" stroke-linejoin="miter"/><path d="M109.6,58.6L113.6,83.6L109.6,87.6Z" fill="#000" stroke="#000" stroke-width="1.25" stroke-linejoin="miter"/><path d="M138.6,87.6L113.6,83.6L109.6,87.6Z" fill="#fff" stroke="#000" stroke-width="1.25" stroke-linejoin="miter"/><path d="M138.6,87.6L113.6,91.6L109.6,87.6Z" fill="#000" stroke="#000" stroke-width="1.25" stroke-linejoin="miter"/><path d="M109.6,116.6L105.6,91.6L109.6,87.6Z" fill="#000" stroke="#000" stroke-width="1.25" stroke-linejoin="miter"/><path d="M109.6,116.6L113.6,91.6L109.6,87.6Z" fill="#fff" stroke="#000" stroke-width="1.25" stroke-linejoin="miter"/><path d="M80.6,87.6L105.6,83.6L109.6,87.6Z" fill="#000" stroke="#000" stroke-width="1.25" stroke-linejoin="miter"/><path d="M80.6,87.6L105.6,91.6L109.6,87.6Z" fill="#fff" stroke="#000" stroke-width="1.25" stroke-linejoin="miter"/><text x="109.6" y="55.5" text-anchor="middle" class="cn">N</text></g>
<rect x="84.4" y="349" width="104.6" height="8.4" fill="#fff" stroke="#000" stroke-width="1.2"/>
<rect x="136" y="349" width="53" height="8.4" fill="#000"/>
<text x="83.8" y="372.9" text-anchor="middle" class="sb">0.0</text>
<text x="135.9" y="372.9" text-anchor="middle" class="sb">0.1</text>
<text x="177.6" y="372.9" class="sb">0.2 km</text>
<text x="626.9" y="28.2" class="lt">K</text>
<rect x="628.5" y="36.10" width="11.7" height="12.1" fill="#66c2a5"/>
<text x="643.3" y="46.0" class="lg" textLength="53.2" lengthAdjust="spacingAndGlyphs">83.5 to 87.9</text>
<rect x="628.5" y="48.02" width="11.7" height="12.1" fill="#e7956c"/>
<text x="643.3" y="57.9" class="lg" textLength="53.2" lengthAdjust="spacingAndGlyphs">87.9 to 92.9</text>
<rect x="628.5" y="59.94" width="11.7" height="12.1" fill="#a99bb1"/>
<text x="643.3" y="69.8" class="lg" textLength="52.6" lengthAdjust="spacingAndGlyphs">92.9 to 98.1</text>
<rect x="628.5" y="71.86" width="11.7" height="12.1" fill="#c393ca"/>
<text x="643.3" y="81.8" class="lg" textLength="58.2" lengthAdjust="spacingAndGlyphs">98.1 to 104.7</text>
<rect x="628.5" y="83.78" width="11.7" height="12.1" fill="#cbab93"/>
<text x="643.3" y="93.7" class="lg" textLength="63.6" lengthAdjust="spacingAndGlyphs">104.7 to 115.0</text>
<rect x="628.5" y="95.70" width="11.7" height="12.1" fill="#bdd949"/>
<text x="643.3" y="105.6" class="lg" textLength="63.6" lengthAdjust="spacingAndGlyphs">115.0 to 130.7</text>
<rect x="628.5" y="107.62" width="11.7" height="12.1" fill="#fbd63d"/>
<text x="643.3" y="117.5" class="lg" textLength="63.6" lengthAdjust="spacingAndGlyphs">130.7 to 156.1</text>
<rect x="628.5" y="119.54" width="11.7" height="12.1" fill="#e5c494"/>
<text x="643.3" y="129.4" class="lg" textLength="63.6" lengthAdjust="spacingAndGlyphs">156.1 to 214.4</text>
</g>
<text x="373.2" y="1568.2" text-anchor="middle" class="cap">(I)</text>
</svg>
</body></html>
